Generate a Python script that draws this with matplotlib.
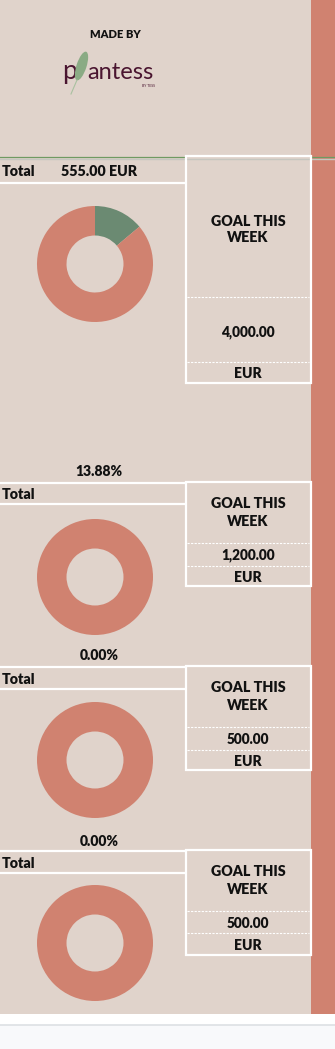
import matplotlib
matplotlib.use("Agg")
import matplotlib.pyplot as plt
from matplotlib.patches import Rectangle, Ellipse

# ---------------- data ----------------
goal_labels = ["4,000.00", "1,200.00", "500.00", "500.00"]
goals = [4000, 1200, 500, 500]
achieved = [555, 0, 0, 0]
pct_labels = ["13.88%", "0.00%", "0.00%"]
total_label = "555.00 EUR"
currency = "EUR"

# ---------------- style ----------------
BG = "#e0d3cb"
SALMON = "#d08270"
GREEN = "#6b8a72"
TXT = "#111111"
FONT = ["Lato", "DejaVu Sans"]
plt.rcParams["font.family"] = FONT
WT = "heavy"

W, H = 335, 1049
fig = plt.figure(figsize=(W / 100, H / 100), dpi=100)
fig.patch.set_facecolor("#f8f9fb")
ax = fig.add_axes([0, 0, 1, 1])

def layout():
    ax.set_xlim(0, W)
    ax.set_ylim(H, 0)
    ax.axis("off")

layout()

# background areas
ax.add_patch(Rectangle((0, 0), 311, 1014, facecolor=BG, edgecolor="none", zorder=0))
ax.add_patch(Rectangle((311, 0), 24, 1014, facecolor=SALMON, edgecolor="none", zorder=0))
ax.add_patch(Rectangle((0, 1014), W, 11, facecolor="white", edgecolor="none", zorder=0))
ax.plot([0, W], [1025, 1025], color="#dde0e4", lw=1.2, zorder=1)

# header
ax.text(115, 34, "MADE BY", ha="center", va="center", fontsize=8, fontweight=WT, color=TXT)
LOGO = "#4a1530"
ax.text(62, 79, "p", ha="left", va="baseline", fontsize=19, fontweight="normal", color=LOGO)
ax.text(87, 79, "antess", ha="left", va="baseline", fontsize=17, fontweight="normal", color=LOGO)
ax.text(149, 86, "BY TESS", ha="center", va="center", fontsize=2.5, color=LOGO)
ax.add_patch(Ellipse((81.5, 66), 10, 30, angle=18, facecolor="#8aab84", edgecolor="none", zorder=3))
ax.plot([77, 71], [80, 94], color="#a9c1a0", lw=0.8, zorder=3)

# top separator lines
for x0, x1 in [(0, 185), (311, 335)]:
    ax.plot([x0, x1], [156.5, 156.5], color="#6f9a62", lw=0.9, zorder=4)
    ax.plot([x0, x1], [158.5, 158.5], color="#c6c6c0", lw=1.0, zorder=4)
ax.plot([186, 311], [158.5, 158.5], color="#c6c6c0", lw=1.0, zorder=4)

# block geometry (pixel positions)
blocks = [
    dict(box=(156, 383), row=(157, 183), goal=(221, 238), dash=(297, 362), val=332, eur=373, donut=264, pct=472),
    dict(box=(482, 586), row=(483, 504), goal=(504, 522), dash=(543, 566), val=555, eur=577, donut=577, pct=656),
    dict(box=(666, 770), row=(667, 689), goal=(688, 706), dash=(727, 750), val=739, eur=761, donut=760, pct=841),
    dict(box=(850, 955), row=(851, 873), goal=(872, 889), dash=(911, 933), val=923, eur=945, donut=943, pct=None),
]

WHITE_LW = 1.6
for i, b in enumerate(blocks):
    top, bot = b["box"]
    # goal box
    ax.add_patch(Rectangle((185.5, top), 125, bot - top, facecolor="none",
                           edgecolor="white", lw=WHITE_LW, zorder=5))
    for yd in b["dash"]:
        ax.plot([187, 309], [yd, yd], color="white", lw=0.8, ls=(0, (2, 1.2)), zorder=5)
    ax.text(248, b["goal"][0], "GOAL THIS", ha="center", va="center", fontsize=10.3,
            fontweight=WT, color=TXT)
    ax.text(248, b["goal"][1], "WEEK", ha="center", va="center", fontsize=10.3,
            fontweight=WT, color=TXT)
    ax.text(248, b["val"], goal_labels[i], ha="center", va="center", fontsize=9.8,
            fontweight=WT, color=TXT)
    ax.text(248, b["eur"], currency, ha="center", va="center", fontsize=10,
            fontweight=WT, color=TXT)

    # Total row
    r0, r1 = b["row"]
    if i > 0:
        ax.plot([0, 185], [r0, r0], color="white", lw=WHITE_LW, zorder=5)
    ax.plot([0, 185], [r1, r1], color="white", lw=WHITE_LW, zorder=5)
    ax.text(2, (r0 + r1) / 2 + 1, "Total", ha="left", va="center", fontsize=10.3,
            fontweight=WT, color=TXT)
    if i == 0:
        ax.text(99, (r0 + r1) / 2 + 1, total_label, ha="center", va="center", fontsize=10.3,
                fontweight=WT, color=TXT)

    # donut
    vals = [achieved[i], goals[i] - achieved[i]]
    ax.pie(vals, colors=[GREEN, SALMON], center=(95, b["donut"]), radius=58,
           startangle=-90, counterclock=True, frame=True,
           wedgeprops=dict(width=29.5, linewidth=0, edgecolor="none"))
    if b["pct"] is not None:
        ax.text(99, b["pct"], pct_labels[i], ha="center", va="center", fontsize=10,
                fontweight=WT, color=TXT)

layout()
fig.savefig("out.png", dpi=100, facecolor=fig.get_facecolor())
